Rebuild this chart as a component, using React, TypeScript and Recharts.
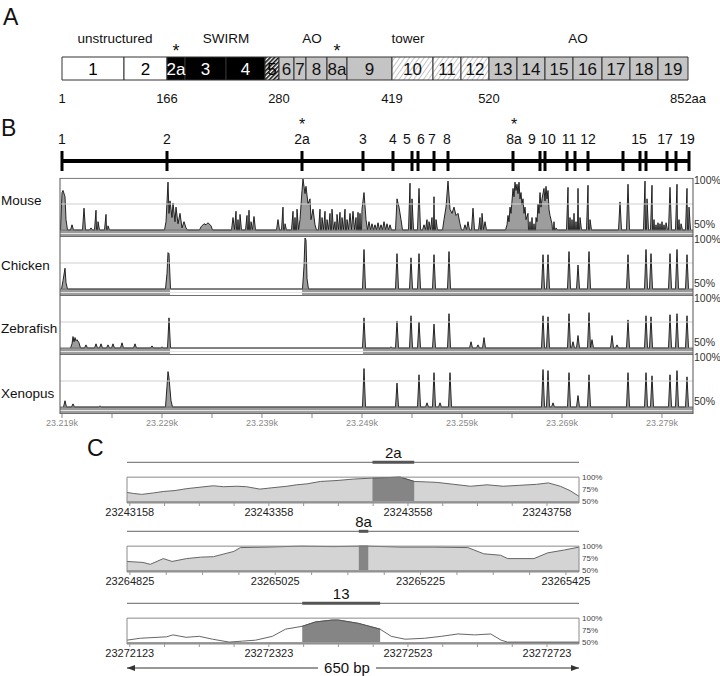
import React from 'react'
import {
  BarChart, Bar, XAxis, YAxis, ReferenceDot, ReferenceLine, ReferenceArea,
  ScatterChart, Scatter, ComposedChart, Area,
} from 'recharts'

const FONT = "'Liberation Sans', Arial, Helvetica, sans-serif"
const NARROW = "'Liberation Sans Narrow', 'Arial Narrow', 'Liberation Sans', Arial, sans-serif"

// ---------- A: protein map (exons drawn as stacked segments)
const segNames = ['1', '2', '2a', '3', '4', '5', '6', '7', '8', '8a', '9', '10', '11', '12', '13', '14', '15', '16', '17', '18', '19']
const segSpans = [62, 43, 18, 41, 39, 14, 15, 12, 21, 20, 45, 41, 28, 28, 28, 28, 28, 29, 28, 28, 30]
const segKind = ['U', 'U', 'S', 'S', 'S', 'L', 'A', 'A', 'A', 'A', 'A', 'T', 'T', 'T', 'A', 'A', 'A', 'A', 'A', 'A', 'A']
const domainNames = ['unstructured', 'SWIRM', 'AO', 'tower', 'AO']
const domainNameAt = [53, 164, 250, 346, 516]
const aaMarks = ['1', '166', '280', '419', '520', '852aa']
const aaMarkBoundary = [0, 2, 6, 11, 14, 21]
const starredExons = ['2a', '8a']

// ---------- B: conservation tracks (kb)
const B_START = 23218.8
const B_END = 23282.1
const exonTicks = [23219.0, 23229.5, 23243.0, 23249.1, 23252.1, 23254.0, 23254.6, 23256.2, 23257.6, 23264.1, 23266.8, 23267.3, 23269.5, 23270.3, 23271.6, 23275.1, 23276.8, 23277.4, 23279.5, 23280.4, 23281.7]
const exonLabelText = ['1', '2', '2a', '3', '4', '5', '6', '7', '8', '8a', '9', '10', '11', '12', '15', '17', '19']
const exonLabelAt = [23219.0, 23229.5, 23243.0, 23249.1, 23252.1, 23253.5, 23254.9, 23256.0, 23257.5, 23264.2, 23266.0, 23267.6, 23269.7, 23271.6, 23276.7, 23279.3, 23281.5]
const axisTicks = [23219, 23224, 23229, 23234, 23239, 23244, 23249, 23254, 23259, 23264, 23269, 23274, 23279]
const axisLabels = [23219, 23229, 23239, 23249, 23259, 23269, 23279]

type Pt = [number, number]
type Entry = Pt | Pt[]

const mouse: Entry[] = [
  [[23219.0, 86], [23219.1, 88], [23219.3, 82], [23219.4, 60]],
  [23220.0, 55], [23221.2, 71], [23221.9, 52], [23222.4, 69], [23222.6, 58], [23223.4, 65], [23223.6, 54],
  [[23229.4, 58], [23229.6, 96], [23229.7, 66], [23229.8, 78], [23230.0, 62], [23230.1, 76], [23230.3, 58], [23230.4, 72], [23230.6, 56], [23230.8, 66], [23231.0, 52], [23231.2, 58], [23231.4, 52]],
  [[23232.9, 53], [23233.2, 56], [23233.4, 55], [23233.6, 57], [23233.9, 54]],
  [23236.1, 62], [23236.4, 68], [23236.6, 60], [23236.8, 65],
  [23237.5, 64], [23237.7, 69], [23237.9, 58], [23238.2, 63],
  [23240.6, 60], [23241.1, 72], [23241.3, 56],
  [23242.1, 68], [23242.3, 62], [23242.5, 70],
  [[23242.8, 60], [23243.0, 88], [23243.1, 99], [23243.3, 85], [23243.4, 92], [23243.6, 75], [23243.8, 80], [23243.9, 60], [23244.1, 70], [23244.3, 55]],
  [23244.8, 70], [23245.0, 62], [23245.3, 68], [23245.5, 60], [23245.8, 66], [23246.0, 70], [23246.3, 58], [23246.5, 65],
  [23246.8, 67], [23247.0, 62], [23247.3, 70], [23247.5, 60], [23247.8, 66], [23248.1, 68], [23248.4, 62], [23248.6, 67],
  [23248.8, 66], [[23249.0, 70], [23249.2, 86], [23249.4, 60]],
  [23249.7, 58], [23250.0, 56], [23250.3, 55], [23250.6, 57], [23250.9, 55], [23251.2, 58], [23251.5, 56], [23251.8, 55],
  [[23252.5, 80], [23252.7, 72], [23252.9, 60]],
  [23253.8, 95], [23254.0, 80], [23254.7, 90],
  [23255.2, 55], [23255.5, 60], [23255.7, 58], [23256.0, 62], [23256.2, 82], [23256.4, 60],
  [[23257.2, 60], [23257.4, 72], [23257.6, 97], [23257.8, 70], [23258.0, 66], [23258.2, 72], [23258.4, 64], [23258.6, 66], [23258.8, 56]],
  [23259.3, 55], [23259.6, 58], [23260.1, 71], [23260.8, 62], [23261.0, 66], [23261.3, 58],
  [[23263.5, 55], [23263.6, 64], [23263.7, 58], [23263.8, 72], [23263.9, 66], [23264.1, 90], [23264.2, 82], [23264.3, 96], [23264.4, 88], [23264.5, 94], [23264.6, 85], [23264.7, 96], [23264.8, 80], [23264.9, 86], [23265.0, 74], [23265.1, 80], [23265.2, 66], [23265.3, 72], [23265.4, 60], [23265.6, 66]],
  [23265.8, 58], [23266.0, 62], [23266.2, 56],
  [[23266.4, 62], [23266.5, 58], [23266.6, 75], [23266.7, 66], [23266.8, 86], [23266.9, 72], [23267.0, 80], [23267.2, 90], [23267.3, 78], [23267.4, 92], [23267.5, 80], [23267.6, 88], [23267.7, 70], [23267.8, 64], [23268.0, 56]],
  [23268.2, 58], [23268.4, 52],
  [23269.6, 91], [23269.8, 62], [23270.0, 60], [23270.2, 66], [23270.4, 58], [23270.6, 90], [23270.8, 62],
  [23271.6, 93], [23271.8, 60], [23274.8, 77], [23275.6, 94], [23277.3, 97], [23277.5, 80], [23278.0, 93], [23278.2, 60],
  [23278.4, 55], [23278.6, 57], [23278.8, 56], [23279.0, 58], [23279.2, 55], [23279.4, 57],
  [23279.8, 91], [23280.5, 94], [23280.7, 60], [23280.9, 56], [23281.5, 90], [23281.7, 72],
]

const chicken: Entry[] = [
  [[23219.1, 58], [23219.3, 70], [23219.4, 56]],
  [[23229.5, 65], [23229.6, 85], [23229.7, 84]],
  [[23243.2, 72], [23243.3, 99], [23243.4, 97], [23243.5, 60]],
  [23249.2, 88], [23252.5, 84], [23253.9, 80], [23254.7, 84], [23256.2, 83], [23257.7, 86],
  [23267.1, 83], [23267.6, 83], [23269.7, 86], [23270.6, 73], [23271.7, 86],
  [23275.6, 83], [23277.4, 88], [23277.9, 84], [23279.8, 84], [23280.5, 88], [23281.5, 83],
]

const zebrafish: Entry[] = [
  [[23220.0, 54], [23220.1, 61], [23220.2, 56], [23220.3, 60], [23220.4, 57], [23220.5, 58], [23220.7, 55]],
  [23221.4, 53], [23222.4, 54], [23222.9, 54], [23223.6, 53], [23224.1, 54], [23225.0, 55], [23226.3, 54],
  [23228.0, 52], [23229.0, 51], [23229.7, 79],
  [23249.2, 79], [23251.9, 51], [23252.5, 76], [23253.9, 81], [23254.7, 75], [23256.2, 73], [23257.7, 83],
  [23259.9, 56], [23260.6, 53], [23261.2, 60],
  [23267.1, 81], [23267.6, 80], [23269.7, 83], [23270.1, 56], [23270.6, 62], [23271.7, 84], [23272.0, 58],
  [23274.0, 62], [23274.5, 53], [23275.6, 77], [23277.4, 81], [23277.9, 80], [23279.8, 82], [23280.5, 83], [23281.5, 81],
]

const xenopus: Entry[] = [
  [23219.3, 56], [23220.1, 53], [23222.8, 51],
  [[23229.5, 70], [23229.6, 84], [23229.7, 78], [23229.9, 56]],
  [23249.2, 87], [23252.5, 73], [23254.7, 81], [23255.5, 54], [23256.2, 83], [23256.8, 54], [23257.8, 83],
  [23267.1, 86], [23267.6, 85], [23268.1, 54], [23269.7, 83], [23270.6, 61], [23271.7, 81],
  [23275.6, 83], [23277.4, 83], [23278.0, 80], [23279.8, 81], [23280.5, 85], [23281.5, 79],
]

const trackKeys = ['mouse', 'chicken', 'zebrafish', 'xenopus']
const trackNames = ['Mouse', 'Chicken', 'Zebrafish', 'Xenopus']
const tracks = [mouse, chicken, zebrafish, xenopus]
const aligned: [number, number][][] = [
  [[B_START, B_END]],
  [[B_START, 23229.8], [23243.0, B_END]],
  [[B_START, 23229.8], [23249.1, B_END]],
  [[B_START, B_END]],
]

// ---------- C: three close-ups (bp, % identity)
const c2a: Pt[] = [
  [23243154, 68], [23243163, 66], [23243175, 64], [23243192, 67], [23243206, 70], [23243223, 72], [23243240, 76],
  [23243259, 79], [23243278, 82], [23243293, 80], [23243312, 81], [23243326, 80], [23243345, 75], [23243364, 78],
  [23243384, 81], [23243398, 84], [23243413, 86], [23243432, 91], [23243456, 93], [23243480, 96], [23243507, 98],
  [23243547, 100], [23243567, 91], [23243585, 90], [23243600, 89], [23243624, 85], [23243648, 81], [23243672, 84],
  [23243695, 81], [23243719, 83], [23243743, 85], [23243760, 88], [23243777, 81], [23243791, 72], [23243804, 60],
]
const c2aExon: Pt = [23243507, 23243567]
const c2aLabels = [23243158, 23243358, 23243558, 23243758]

const c8a: Pt[] = [
  [23264821, 68], [23264843, 66], [23264853, 62], [23264871, 74], [23264883, 68], [23264903, 74], [23264922, 77],
  [23264940, 78], [23264968, 89], [23264977, 97], [23265014, 98], [23265060, 100], [23265106, 99], [23265140, 100],
  [23265153, 100], [23265198, 98], [23265243, 98], [23265290, 97], [23265312, 84], [23265335, 81], [23265345, 74],
  [23265381, 74], [23265400, 86], [23265423, 92], [23265443, 98],
]
const c8aExon: Pt = [23265140, 23265153]
const c8aLabels = [23264825, 23265025, 23265225, 23265425]

const c13: Pt[] = [
  [23272119, 54], [23272138, 58], [23272176, 61], [23272185, 65], [23272204, 60], [23272223, 62], [23272242, 56],
  [23272266, 50], [23272285, 52], [23272304, 54], [23272328, 62], [23272347, 77], [23272371, 83], [23272390, 92],
  [23272414, 96], [23272423, 96], [23272452, 89], [23272483, 77], [23272499, 62], [23272519, 56], [23272547, 58],
  [23272571, 62], [23272595, 67], [23272619, 65], [23272642, 67], [23272657, 54], [23272666, 50], [23272769, 50],
]
const c13Exon: Pt = [23272371, 23272483]
const c13Labels = [23272123, 23272323, 23272523, 23272723]

// ---------- layout helpers
const SPAN = 56.73 // one track (43.27..100) in % units
const BAND_LO = 43.27
const NAME_DROP = [22, 28, 32, 38]
const SPIKE = 0.15

const kindFill: Record<string, string> = { U: '#fff', S: '#000', L: 'url(#hatchDark)', A: '#c4c4c4', T: 'url(#hatchLight)' }
const kindText: Record<string, string> = { U: '#000', S: '#fff', L: '#000', A: '#111', T: '#111' }

const cum = segSpans.reduce((acc, s) => { acc.push(acc[acc.length - 1] + s); return acc }, [0] as number[])
const segTotal = cum[cum.length - 1]
const barRow: Record<string, any> = { name: 'LSD1' }
segSpans.forEach((s, i) => { barRow[`s${i}`] = s })

function expand(entries: Entry[]): Pt[] {
  const out: Pt[] = []
  entries.forEach((e) => {
    const run = (typeof e[0] === 'number' ? [e] : e) as Pt[]
    out.push([run[0][0] - SPIKE, 50])
    run.forEach((p) => out.push(p))
    out.push([run[run.length - 1][0] + SPIKE, 50])
  })
  return out
}

const trackRows = trackKeys
  .flatMap((k, i) => expand(tracks[i]).map(([x, v]) => ({ x, [k]: v } as Record<string, number>)))
  .sort((a, b) => a.x - b.x)

const segLabel = (text: string, color: string) => (props: any) => {
  const vb = props.viewBox && props.viewBox.width !== undefined ? props.viewBox : props
  const { x, y, width, height } = vb
  if (x == null) return null
  return (
    <text x={x + width / 2} y={y + height / 2} dy="0.36em" textAnchor="middle" fontSize={17} fontFamily={NARROW} fill={color}>
      {text}
    </text>
  )
}

function ProteinMap() {
  return (
    <BarChart layout="vertical" width={720} height={112} data={[barRow]} margin={{ top: 57, right: 32, bottom: 32, left: 62 }} barCategoryGap={0}>
      <defs>
        <pattern id="hatchDark" width="3" height="3" patternUnits="userSpaceOnUse" patternTransform="rotate(45)">
          <rect width="3" height="3" fill="#fff" />
          <rect width="1.6" height="3" fill="#111" />
        </pattern>
        <pattern id="hatchLight" width="4" height="4" patternUnits="userSpaceOnUse" patternTransform="rotate(35)">
          <rect width="4" height="4" fill="#fff" />
          <rect width="0.8" height="4" fill="#b5b5b5" />
        </pattern>
      </defs>
      <XAxis type="number" domain={[0, segTotal]} hide />
      <YAxis type="category" dataKey="name" hide />
      {segNames.map((n, i) => (
        <Bar key={n} dataKey={`s${i}`} stackId="a" fill={kindFill[segKind[i]]} stroke="#333" strokeWidth={1}
          isAnimationActive={false} label={segLabel(n, kindText[segKind[i]])} />
      ))}
      {domainNames.map((d, i) => (
        <ReferenceDot key={`d${i}`} x={domainNameAt[i]} y="LSD1" r={0} fill="none" stroke="none" ifOverflow="visible"
          label={{ value: d, position: 'top', offset: 26, fontSize: 13.5, fill: '#111' }} />
      ))}
      {starredExons.map((n) => {
        const i = segNames.indexOf(n)
        return (
          <ReferenceDot key={`st${n}`} x={(cum[i] + cum[i + 1]) / 2} y="LSD1" r={0} fill="none" stroke="none" ifOverflow="visible"
            label={{ value: '*', position: 'top', offset: 12, fontSize: 18, fill: '#111' }} />
        )
      })}
      {aaMarks.map((m, i) => (
        <ReferenceDot key={`m${i}`} x={cum[aaMarkBoundary[i]]} y="LSD1" r={0} fill="none" stroke="none" ifOverflow="visible"
          label={{ value: m, position: 'bottom', offset: 25, fontSize: 13, fill: '#111' }} />
      ))}
    </BarChart>
  )
}

const tickShape = (p: any) => (
  <line x1={p.cx} x2={p.cx} y1={p.cy - 10} y2={p.cy + 10} stroke="#000" strokeWidth={3} />
)
const labelShape = (p: any) => (
  <g>
    <text x={p.cx} y={p.cy - 17} textAnchor="middle" fontSize={14} fill="#111">{p.payload.label}</text>
    {p.payload.star && <text x={p.cx} y={p.cy - 31} textAnchor="middle" fontSize={16} fill="#111">*</text>}
  </g>
)

function ExonBar() {
  const tickRows = exonTicks.map((x) => ({ x, y: 0.5 }))
  const labelRows = exonLabelText.map((t, i) => ({ x: exonLabelAt[i], y: 0.5, label: t, star: starredExons.includes(t) }))
  return (
    <ScatterChart width={720} height={66} margin={{ top: 41, right: 27, bottom: 5, left: 60 }}>
      <XAxis type="number" dataKey="x" domain={[B_START, B_END]} hide />
      <YAxis type="number" dataKey="y" domain={[0, 1]} hide />
      <ReferenceLine segment={[{ x: exonTicks[0], y: 0.5 }, { x: exonTicks[exonTicks.length - 1], y: 0.5 }]} stroke="#000" strokeWidth={4} />
      <Scatter data={tickRows} shape={tickShape} isAnimationActive={false} />
      <Scatter data={labelRows} shape={labelShape} isAnimationActive={false} />
    </ScatterChart>
  )
}

const trackIndex = (v: number) => Math.floor((100 - v + 1) / SPAN)

const PctTick = (p: any) => {
  const v = p.payload.value
  const rel = Math.round(v + trackIndex(v) * SPAN)
  return (
    <text x={694} y={p.y} dy={rel === 100 ? 6 : -2} fontSize={10.5} fill="#333" textAnchor="start">{rel}%</text>
  )
}
const SpeciesTick = (p: any) => (
  <text x={1} y={p.y} dy={5} fontSize={13.5} fill="#111" textAnchor="start">{trackNames[trackIndex(p.payload.value)]}</text>
)

function Tracks() {
  const dom = (i: number) => [BAND_LO - (3 - i) * SPAN, 100 + i * SPAN]
  const pctTicks = trackKeys.flatMap((_, i) => [100 - i * SPAN, 50 - i * SPAN])
  const nameTicks = trackKeys.map((_, i) => 100 - i * SPAN - (NAME_DROP[i] * 50) / 52)
  return (
    <ComposedChart width={720} height={264} data={trackRows} margin={{ top: 6, right: 0, bottom: 0, left: 0 }}>
      <XAxis dataKey="x" type="number" domain={[B_START, B_END]} allowDataOverflow ticks={axisTicks} interval={0}
        tickFormatter={(v: number) => (axisLabels.includes(v) ? `${(v / 1000).toFixed(3)}k` : '')}
        height={22} axisLine={false} tickSize={4} tickLine={{ stroke: '#888' }} tick={{ fontSize: 9, fill: '#888' }} />
      <YAxis yAxisId="l" orientation="left" width={60} type="number" domain={dom(0)} allowDataOverflow ticks={nameTicks}
        interval={0} axisLine={false} tickLine={false} tick={SpeciesTick} />
      <YAxis yAxisId="r" orientation="right" width={27} type="number" domain={dom(0)} allowDataOverflow ticks={pctTicks}
        interval={0} axisLine={false} tickLine={false} tickSize={0} tickMargin={2} tick={PctTick} />
      {trackKeys.map((k, i) => (
        <YAxis key={`ax${k}`} yAxisId={`t${i}`} type="number" domain={dom(i)} allowDataOverflow hide />
      ))}
      {trackKeys.map((k, i) =>
        aligned[i].map(([a, b], j) => (
          <ReferenceArea key={`al${k}${j}`} yAxisId={`t${i}`} x1={a} x2={b} y1={BAND_LO} y2={50}
            fill="#9b9b9b" fillOpacity={1} stroke="none" ifOverflow="visible" />
        ))
      )}
      {trackKeys.map((k, i) => (
        <ReferenceLine key={`g${k}`} yAxisId={`t${i}`} y={75} stroke="#cfcfcf" strokeWidth={1} />
      ))}
      {trackKeys.map((k, i) => (
        <Area key={k} yAxisId={`t${i}`} dataKey={k} type="linear" baseValue={50} connectNulls stroke="#111" strokeWidth={0.9}
          fill="#9d9d9d" fillOpacity={1} isAnimationActive={false} dot={false} activeDot={false} />
      ))}
      {trackKeys.map((k, i) => (
        <ReferenceLine key={`c${k}`} yAxisId={`t${i}`} y={46.6} stroke="#e6e6e6" strokeWidth={1} />
      ))}
      {trackKeys.map((k, i) => (
        <ReferenceLine key={`b${k}`} yAxisId={`t${i}`} y={50} stroke="#6f6f6f" strokeWidth={1} />
      ))}
      {trackKeys.map((k, i) => (
        <ReferenceLine key={`e${k}`} yAxisId={`t${i}`} y={BAND_LO + 0.5} stroke="#6f6f6f" strokeWidth={1.2} />
      ))}
      <ReferenceLine yAxisId="t0" y={99.6} stroke="#777" />
      <ReferenceLine yAxisId="t0" x={B_START} stroke="#555" />
      <ReferenceLine yAxisId="t0" x={B_END} stroke="#555" />
    </ComposedChart>
  )
}

function CloseUp({ pts, exon, labels, name, outside }: { pts: Pt[]; exon: Pt; labels: number[]; name: string; outside: string }) {
  const domain: Pt = [pts[0][0], pts[pts.length - 1][0]]
  const rows = pts.map(([x, v]) => ({ x, all: v, exon: x >= exon[0] && x <= exon[1] ? v : null }))
  const minor: number[] = []
  for (let t = labels[0]; t <= domain[1]; t += 50) minor.push(t)
  return (
    <ComposedChart width={720} height={77} data={rows} margin={{ top: 14, right: 111, bottom: 0, left: 127 }}>
      <XAxis dataKey="x" type="number" domain={domain} allowDataOverflow ticks={minor} interval={0}
        tickFormatter={(v: number) => (labels.includes(v) ? String(v) : '')}
        height={18} axisLine={false} tickSize={3} tickLine={{ stroke: '#999' }} tick={{ fontSize: 11, fill: '#222' }} />
      <YAxis orientation="right" width={30} type="number" domain={[46, 140]} allowDataOverflow ticks={[50, 75, 100]} interval={0}
        tickFormatter={(v: number) => `${v}%`} axisLine={false} tickLine={false} tickSize={0} tickMargin={3}
        tick={{ fontSize: 8, fill: '#444' }} />
      <ReferenceArea x1={domain[0]} x2={domain[1]} y1={46} y2={50} fill="#9a9a9a" fillOpacity={1} stroke="none" />
      <Area dataKey="all" type="linear" baseValue={50} stroke="#666" strokeWidth={1} fill={outside} fillOpacity={1}
        isAnimationActive={false} dot={false} activeDot={false} />
      <Area dataKey="exon" type="linear" baseValue={50} stroke="#555" strokeWidth={1} fill="#858585" fillOpacity={1}
        isAnimationActive={false} dot={false} activeDot={false} />
      <ReferenceArea x1={domain[0]} x2={domain[1]} y1={46} y2={100} fill="none" stroke="#8a8a8a" />
      <ReferenceLine segment={[{ x: domain[0], y: 131 }, { x: domain[1], y: 131 }]} stroke="#666" strokeWidth={1} />
      <ReferenceLine segment={[{ x: exon[0], y: 131 }, { x: exon[1], y: 131 }]} stroke="#555" strokeWidth={3} />
      <ReferenceDot x={(exon[0] + exon[1]) / 2} y={131} r={0} fill="none" stroke="none"
        label={{ value: name, position: 'top', offset: 4, fontSize: 15, fill: '#111' }} />
    </ComposedChart>
  )
}

const panelLetter = (text: string, left: number, top: number) => (
  <div style={{ position: 'absolute', left, top, fontSize: 23, lineHeight: 1, color: '#111' }}>{text}</div>
)

export default function App() {
  return (
    <div style={{ position: 'absolute', left: 0, top: 0, width: 720, height: 676, background: '#fff', fontFamily: FONT, overflow: 'hidden' }}>
      {panelLetter('A', 3, 6)}
      {panelLetter('B', 1, 117)}
      {panelLetter('C', 87, 437)}
      <div style={{ position: 'absolute', left: 0, top: 0 }}><ProteinMap /></div>
      <div style={{ position: 'absolute', left: 0, top: 110 }}><ExonBar /></div>
      <div style={{ position: 'absolute', left: 0, top: 172 }}><Tracks /></div>
      <div style={{ position: 'absolute', left: 0, top: 444 }}>
        <CloseUp pts={c2a} exon={c2aExon} labels={c2aLabels} name="2a" outside="#d4d4d4" />
      </div>
      <div style={{ position: 'absolute', left: 0, top: 513 }}>
        <CloseUp pts={c8a} exon={c8aExon} labels={c8aLabels} name="8a" outside="#d4d4d4" />
      </div>
      <div style={{ position: 'absolute', left: 0, top: 585 }}>
        <CloseUp pts={c13} exon={c13Exon} labels={c13Labels} name="13" outside="#ffffff" />
      </div>
      <svg style={{ position: 'absolute', left: 0, top: 658 }} width={720} height={18}>
        <line x1={127} x2={579} y1={10} y2={10} stroke="#333" strokeWidth={1} />
        <polygon points="127,10 135,7 135,13" fill="#333" />
        <polygon points="579,10 571,7 571,13" fill="#333" />
        <rect x={318} y={1} width={58} height={17} fill="#fff" />
        <text x={347} y={15} textAnchor="middle" fontSize={15} fill="#111">650 bp</text>
      </svg>
    </div>
  )
}
